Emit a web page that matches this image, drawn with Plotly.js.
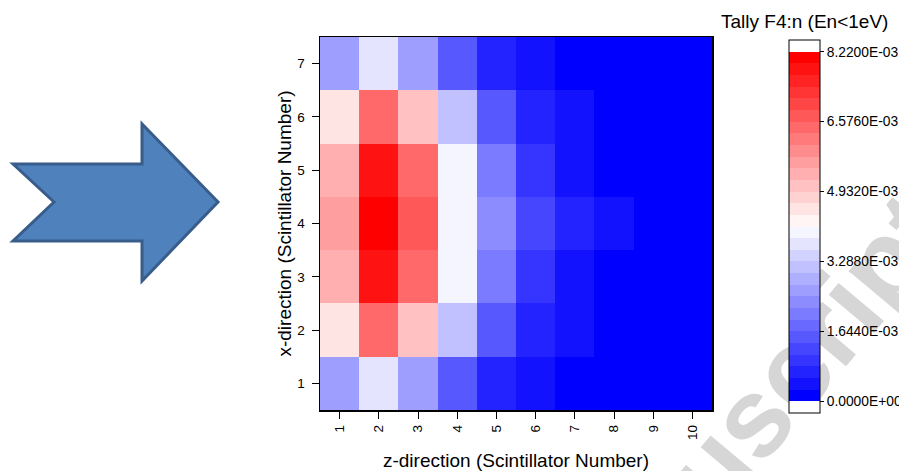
<!DOCTYPE html>
<html>
<head>
<meta charset="utf-8">
<script src="https://cdn.plot.ly/plotly-3.0.1.min.js"></script>
<style>
html,body{margin:0;padding:0;background:#ffffff;}
#chart{width:899px;height:471px;}
</style>
</head>
<body>
<div id="chart"></div>
<script>
// ---- data ----
const zScintillator = [1, 2, 3, 4, 5, 6, 7, 8, 9, 10];   // x categories (z-direction)
const xScintillator = [1, 2, 3, 4, 5, 6, 7];              // y categories (x-direction)

// tally values, one array per x-direction scintillator (row), along z 1..10
const row1 = [2.60e-3, 3.70e-3, 2.60e-3, 1.51e-3, 0.69e-3, 0.41e-3, 0.14e-3, 0.10e-3, 0.08e-3, 0.06e-3];
const row2 = [4.52e-3, 6.44e-3, 5.07e-3, 3.15e-3, 1.51e-3, 0.69e-3, 0.41e-3, 0.18e-3, 0.12e-3, 0.09e-3];
const row3 = [5.34e-3, 7.81e-3, 6.44e-3, 3.97e-3, 2.06e-3, 0.96e-3, 0.41e-3, 0.22e-3, 0.14e-3, 0.10e-3];
const row4 = [5.62e-3, 8.21e-3, 6.71e-3, 3.97e-3, 2.33e-3, 1.23e-3, 0.69e-3, 0.41e-3, 0.20e-3, 0.13e-3];
const row5 = [5.34e-3, 7.81e-3, 6.44e-3, 3.97e-3, 2.06e-3, 0.96e-3, 0.41e-3, 0.22e-3, 0.14e-3, 0.10e-3];
const row6 = [4.52e-3, 6.44e-3, 5.07e-3, 3.15e-3, 1.51e-3, 0.69e-3, 0.41e-3, 0.18e-3, 0.12e-3, 0.09e-3];
const row7 = [2.60e-3, 3.70e-3, 2.60e-3, 1.51e-3, 0.69e-3, 0.41e-3, 0.14e-3, 0.10e-3, 0.08e-3, 0.06e-3];

const colorbarTickVals = [0, 1.644e-3, 3.288e-3, 4.932e-3, 6.576e-3, 8.22e-3];
const colorbarTickText = ['0.0000E+00', '1.6440E-03', '3.2880E-03', '4.9320E-03', '6.5760E-03', '8.2200E-03'];
const colorbarMax = 8.22e-3;
const colorbarLevels = 30;

const titleColorbar = 'Tally F4:n (En&lt;1eV)';
const titleX = 'z-direction (Scintillator Number)';
const titleY = 'x-direction (Scintillator Number)';

// ---- geometry ----
const W = 899, H = 471;
const M = {l: 320, r: 187, t: 37, b: 61};
const PW = W - M.l - M.r, PH = H - M.t - M.b;
const px = v => (v - M.l) / PW;
const py = v => (H - M.b - v) / PH;

// ---- discrete blue-white-red colorscale with white padding bands ----
const step = colorbarMax / colorbarLevels;
const nBands = colorbarLevels + 2;
const colorscale = [];
for (let k = 0; k < nBands; k++) {
  let col;
  if (k === 0 || k === nBands - 1) col = 'rgb(255,255,255)';
  else if (k <= colorbarLevels / 2) { const c = Math.round((k - 1) * 17.5); col = `rgb(${c},${c},255)`; }
  else { const c = Math.round((colorbarLevels - k) * 17.5); col = `rgb(255,${c},${c})`; }
  colorscale.push([k / nBands, col]);
  colorscale.push([(k + 1) / nBands, col]);
}

const font = 'Liberation Sans, Arial, Helvetica, sans-serif';

const trace = {
  type: 'heatmap',
  x: zScintillator,
  y: xScintillator,
  z: [row1, row2, row3, row4, row5, row6, row7],
  zmin: -step,
  zmax: colorbarMax + step,
  colorscale: colorscale,
  zsmooth: false,
  hoverinfo: 'x+y+z',
  colorbar: {
    thicknessmode: 'pixels', thickness: 31,
    lenmode: 'pixels', len: 373,
    xref: 'container', x: 789 / W, xanchor: 'left',
    yref: 'paper', y: py(226.5), yanchor: 'middle',
    xpad: 0, ypad: 0,
    outlinewidth: 1, outlinecolor: '#000',
    borderwidth: 0,
    tickmode: 'array', tickvals: colorbarTickVals, ticktext: colorbarTickText,
    ticks: 'outside', ticklen: 4, tickwidth: 1, tickcolor: '#000',
    tickfont: {family: font, size: 13.8, color: '#000'},
    title: {text: ''}
  }
};

const arrowPts = [[13,164],[54,202],[13,241],[142,241],[142,281],[218,202],[142,124],[142,164]];
const arrowPath = arrowPts.map((p, i) => (i ? 'L' : 'M') + px(p[0]) + ',' + py(p[1])).join(' ') + ' Z';

const layout = {
  width: W, height: H,
  margin: M,
  paper_bgcolor: '#ffffff',
  plot_bgcolor: '#ffffff',
  font: {family: font, color: '#000'},
  showlegend: false,
  xaxis: {
    range: [0.5, 10.5],
    tickmode: 'array', tickvals: zScintillator, ticktext: zScintillator.map(String),
    ticks: 'outside', ticklen: 7, tickwidth: 1, tickcolor: '#000',
    tickangle: -90, tickfont: {family: font, size: 13.5, color: '#000'},
    ticklabelstandoff: 1,
    showline: true, mirror: true, linecolor: '#000', linewidth: 1.5,
    showgrid: false, zeroline: false,
    title: {text: titleX, font: {family: font, size: 19, color: '#000'}, standoff: 16}
  },
  yaxis: {
    range: [0.5, 7.5],
    tickmode: 'array', tickvals: xScintillator, ticktext: xScintillator.map(String),
    ticks: 'outside', ticklen: 7, tickwidth: 1, tickcolor: '#000',
    tickfont: {family: font, size: 13.5, color: '#000'},
    ticklabelstandoff: 4,
    showline: true, mirror: true, linecolor: '#000', linewidth: 1.5,
    showgrid: false, zeroline: false,
    title: {text: titleY, font: {family: font, size: 19, color: '#000'}, standoff: 0}
  },
  annotations: [{
    xref: 'paper', yref: 'paper', x: px(804), y: py(22),
    xanchor: 'center', yanchor: 'middle', showarrow: false,
    text: titleColorbar, font: {family: font, size: 19, color: '#000'}
  }],
  shapes: [
    {
      type: 'rect', xref: 'paper', yref: 'paper', layer: 'below',
      x0: px(726), x1: px(728), y0: py(432), y1: py(430),
      line: {width: 0}, fillcolor: 'rgba(0,0,0,0)',
      label: {text: 'Manuscript', textangle: -50, textposition: 'middle center',
              font: {family: font, size: 112, color: '#d6d6d6', weight: 'bold'}}
    },
    {
      type: 'path', xref: 'paper', yref: 'paper', layer: 'above',
      path: arrowPath,
      fillcolor: '#4f81bd', line: {color: '#385d8a', width: 3}
    }
  ]
};

Plotly.newPlot('chart', [trace], layout, {displayModeBar: false, staticPlot: true});
</script>
</body>
</html>
